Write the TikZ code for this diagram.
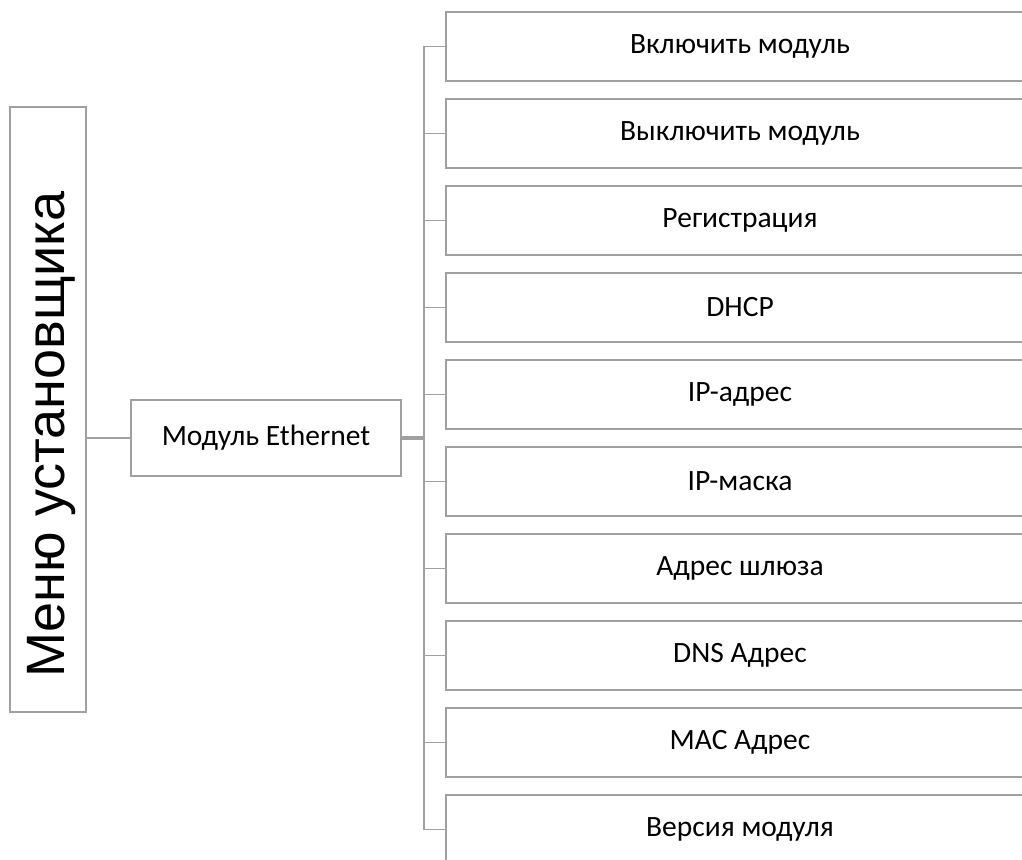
\documentclass[tikz,border=0pt]{standalone}
\usepackage{fontspec}
\setmainfont{Carlito}
\newfontfamily\bigfont{Liberation Sans}
\usepackage{graphicx}
\usepackage{tikz}
\usetikzlibrary{positioning}
\usepackage{xcolor}
\definecolor{menugray}{RGB}{160,160,160}
\tikzset{
    menubox/.style={
        draw=menugray,line width=1.6pt,fill=white,
        inner sep=0pt,outer sep=0pt,text=black,
        font=\fontsize{29.5}{35}\selectfont
    },
    itembox/.style={
        menubox,minimum width=588pt,minimum height=69pt,anchor=west
    },
    link/.style={
        draw=menugray,line width=1.8pt
    }
}

\begin{document}
\begin{tikzpicture}[x=1pt,y=-1pt]
\useasboundingbox (0,0) rectangle (1022,859);
\clip (0,0) rectangle (1022,859);

\node[menubox,minimum width=76pt,minimum height=605pt]
(menu) at (48,409.5)
{\rotatebox{90}{\bigfont\fontsize{54}{60}\selectfont
\raisebox{0pt}[\dimexpr\height+8pt][\depth]{Меню установщика}\hspace{50pt}}};

\node[menubox,minimum width=270pt,minimum height=76pt]
(eth) at (266,438){Модуль Ethernet};

\coordinate (bus) at (424,0);

\node[itembox] (on) at (446,46.5){Включить модуль};
\node[itembox,below=18pt of on] (off){Выключить модуль};
\node[itembox,below=18pt of off] (reg){Регистрация};
\node[itembox,below=18pt of reg] (dhcp){DHCP};
\node[itembox,below=18pt of dhcp] (ip){IP-адрес};
\node[itembox,below=18pt of ip] (mask){IP-маска};
\node[itembox,below=18pt of mask] (gw){Адрес шлюза};
\node[itembox,below=18pt of gw] (dns){DNS Адрес};
\node[itembox,below=18pt of dns] (mac){MAC Адрес};
\node[itembox,below=18pt of mac] (ver){Версия модуля};

\draw[link](menu.east |- eth.west)--(eth.west);
\draw[link,line width=3.6pt](eth.east)--(eth.east -| bus);
\draw[link,line width=2.6pt](on.west -| bus)--(ver.west -| bus);

\draw[link](on.west -| bus)--(on.west);
\draw[link](off.west -| bus)--(off.west);
\draw[link](reg.west -| bus)--(reg.west);
\draw[link](dhcp.west -| bus)--(dhcp.west);
\draw[link](ip.west -| bus)--(ip.west);
\draw[link](mask.west -| bus)--(mask.west);
\draw[link](gw.west -| bus)--(gw.west);
\draw[link](dns.west -| bus)--(dns.west);
\draw[link](mac.west -| bus)--(mac.west);
\draw[link](ver.west -| bus)--(ver.west);

\end{tikzpicture}
\end{document}
